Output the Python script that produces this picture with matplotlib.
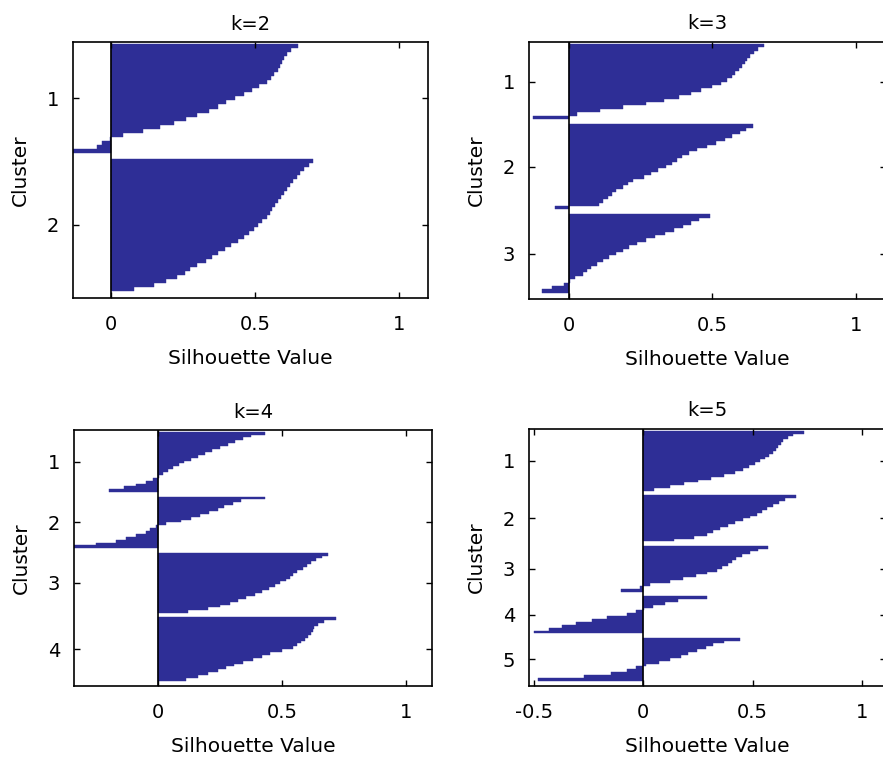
import matplotlib
matplotlib.use("Agg")
import matplotlib.pyplot as plt

# silhouette values per cluster, sorted as drawn (top to bottom)
k2_c1 = [0.65, 0.625, 0.612, 0.60, 0.595, 0.585, 0.578, 0.565, 0.555, 0.54,
         0.515, 0.49, 0.46, 0.43, 0.40, 0.37, 0.34, 0.30, 0.26, 0.22,
         0.17, 0.11, 0.04, -0.005, -0.03, -0.05, -0.15]
k2_c2 = [0.70, 0.686, 0.67, 0.655, 0.645, 0.632, 0.62, 0.61, 0.60, 0.59,
         0.58, 0.57, 0.56, 0.55, 0.54, 0.525, 0.51, 0.495, 0.48, 0.46,
         0.44, 0.415, 0.395, 0.37, 0.35, 0.33, 0.30, 0.275, 0.255, 0.23,
         0.19, 0.15, 0.08]

k3_c1 = [0.68, 0.66, 0.645, 0.632, 0.622, 0.613, 0.603, 0.592, 0.58, 0.568,
         0.55, 0.53, 0.50, 0.46, 0.425, 0.385, 0.33, 0.27, 0.19, 0.11,
         0.03, -0.125]
k3_c2 = [0.64, 0.618, 0.595, 0.57, 0.545, 0.512, 0.48, 0.448, 0.42, 0.395,
         0.375, 0.36, 0.34, 0.31, 0.285, 0.26, 0.225, 0.205, 0.19, 0.165,
         0.15, 0.135, 0.12, 0.105, -0.048]
k3_c3 = [0.49, 0.455, 0.425, 0.396, 0.367, 0.335, 0.30, 0.268, 0.238, 0.21,
         0.187, 0.163, 0.14, 0.118, 0.098, 0.078, 0.063, 0.048, 0.022, 0.005,
         -0.018, -0.06, -0.095]

k4_c1 = [0.43, 0.375, 0.34, 0.31, 0.28, 0.25, 0.215, 0.19, 0.16, 0.13,
         0.105, 0.085, 0.06, 0.04, 0.02, 0.003, -0.02, -0.05, -0.09, -0.14,
         -0.2]
k4_c2 = [0.43, 0.335, 0.30, 0.265, 0.24, 0.205, 0.17, 0.13, 0.09, 0.03,
         -0.01, -0.035, -0.05, -0.09, -0.13, -0.17, -0.25, -0.34]
k4_c3 = [0.685, 0.66, 0.635, 0.615, 0.60, 0.585, 0.56, 0.545, 0.53, 0.515,
         0.49, 0.47, 0.445, 0.42, 0.39, 0.355, 0.32, 0.29, 0.25, 0.2,
         0.12]
k4_c4 = [0.715, 0.67, 0.645, 0.63, 0.622, 0.615, 0.605, 0.59, 0.575, 0.56,
         0.545, 0.5, 0.45, 0.42, 0.38, 0.34, 0.305, 0.275, 0.24, 0.2,
         0.16, 0.11]

k5_c1 = [0.735, 0.685, 0.66, 0.64, 0.628, 0.618, 0.605, 0.595, 0.575, 0.555,
         0.535, 0.51, 0.485, 0.455, 0.42, 0.37, 0.31, 0.25, 0.185, 0.12,
         0.05]
k5_c2 = [0.70, 0.65, 0.62, 0.595, 0.565, 0.545, 0.52, 0.49, 0.455, 0.42,
         0.385, 0.35, 0.32, 0.29, 0.23, 0.14]
k5_c3 = [0.57, 0.525, 0.49, 0.45, 0.425, 0.405, 0.385, 0.36, 0.335, 0.29,
         0.24, 0.18, 0.12, 0.03, -0.015, -0.1]
k5_c4 = [0.29, 0.16, 0.1, 0.045, 0.005, -0.035, -0.075, -0.165, -0.235, -0.31,
         -0.37, -0.43, -0.5]
k5_c5 = [0.44, 0.37, 0.32, 0.285, 0.245, 0.205, 0.17, 0.12, 0.07, 0.01,
         -0.035, -0.075, -0.15, -0.27, -0.48]

titles = ["k=2", "k=3", "k=4", "k=5"]
panels = [[k2_c1, k2_c2],
          [k3_c1, k3_c2, k3_c3],
          [k4_c1, k4_c2, k4_c3, k4_c4],
          [k5_c1, k5_c2, k5_c3, k5_c4, k5_c5]]
x_ranges = [(-0.132, 1.10), (-0.139, 1.105), (-0.34, 1.104), (-0.523, 1.11)]
x_ticks = [[0, 0.5, 1], [0, 0.5, 1], [0, 0.5, 1], [-0.5, 0, 0.5, 1]]

BAR = "#2e2e96"
W, H = 883, 759
# axes boxes in pixels: left, top, right, bottom
boxes = [(73, 42, 428, 298), (529, 42, 886, 299),
         (74, 430, 432, 686), (529, 429, 886, 686)]

fig = plt.figure(figsize=(W / 100, H / 100), dpi=100)
GAP = 1.5

for clusters, title, xr, xt, (l, t, r, b) in zip(panels, titles, x_ranges, x_ticks, boxes):
    ax = fig.add_axes([l / W, 1 - b / H, (r - l) / W, (b - t) / H])
    y = 0.0
    centers = []
    for vals in clusters:
        ys = [y + i + 0.5 for i in range(len(vals))]
        ax.barh(ys, vals, height=1.0, color=BAR, edgecolor=BAR, linewidth=0.3)
        centers.append(y + len(vals) / 2)
        y += len(vals) + GAP
    total = y - GAP
    ax.axvline(0, color="black", lw=1.2)
    ax.set_xlim(*xr)
    ax.set_ylim(total + 1.8, -0.6)
    ax.set_xticks(xt)
    ax.set_xticklabels([f"{v:g}" for v in xt])
    ax.set_yticks(centers)
    ax.set_yticklabels([str(i + 1) for i in range(len(clusters))])
    ax.tick_params(direction="in", top=True, right=True, length=4, width=1,
                   labelsize=14, colors="black")
    ax.tick_params(axis="x", pad=12)
    ax.tick_params(axis="y", pad=10)
    for s in ax.spines.values():
        s.set_linewidth(1.2)
    ax.set_xlabel("Silhouette Value", fontsize=14.5, labelpad=11)
    ax.set_ylabel("Cluster", fontsize=14.5, labelpad=12)
    ax.set_title(title, fontsize=14, pad=9)

fig.savefig("out.png", dpi=100)
